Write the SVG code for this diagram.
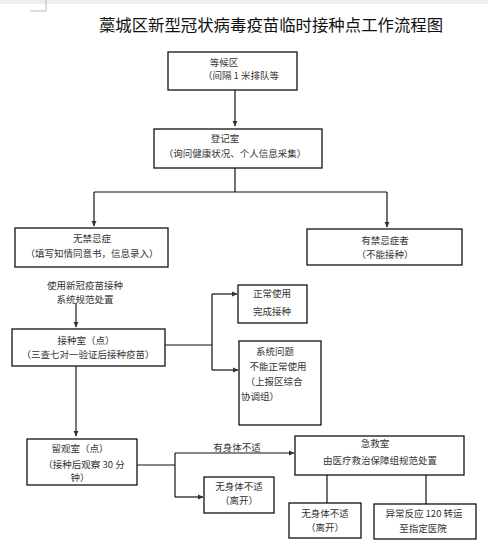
<svg xmlns="http://www.w3.org/2000/svg" width="488" height="560" viewBox="0 0 488 560">
<style>
.box{fill:#fff;stroke:#111;stroke-width:1.3}
.t{font-family:"Noto Sans CJK SC","Liberation Sans",sans-serif;font-size:9.5px;fill:#333;text-anchor:middle}
.tl{font-family:"Noto Sans CJK SC","Liberation Sans",sans-serif;font-size:9.5px;fill:#333;text-anchor:start}
.ln{fill:none;stroke:#111;stroke-width:1.2}
.gl{fill:none;stroke:#777;stroke-width:2}
</style>
<defs>
<marker id="ah" markerWidth="6" markerHeight="6" refX="5" refY="3" orient="auto" markerUnits="userSpaceOnUse"><path d="M0,0.5 L5.5,3 L0,5.5 Z" fill="#333"/></marker>
</defs>
<rect x="0" y="0" width="488" height="560" fill="#fff"/>
<rect x="0" y="0" width="488" height="4" fill="#eeeeee"/>
<path d="M30,11 H46 V0" fill="none" stroke="#bbb" stroke-width="1"/>
<text x="271" y="31" style="font-family:'Noto Sans CJK SC','Liberation Sans',sans-serif;font-size:16.4px;fill:#111;text-anchor:middle">藁城区新型冠状病毒疫苗临时接种点工作流程图</text>

<g id="connectors">
<path class="ln" d="M235,90 V126" marker-end="url(#ah)"/>
<path class="ln" d="M235,168 V192"/>
<path class="ln" d="M94,192 H387"/>
<path class="ln" d="M94,192 V226" marker-end="url(#ah)"/>
<path class="ln" d="M387,192 V227" marker-end="url(#ah)"/>
<path class="gl" d="M76,303 V327" marker-end="url(#ah)"/>
<path class="ln" d="M165,345 H212"/>
<path class="ln" d="M212,294 V370"/>
<path class="ln" d="M212,294 H237" marker-end="url(#ah)"/>
<path class="ln" d="M212,370 H238" marker-end="url(#ah)"/>
<path class="gl" d="M76,366 V436" marker-end="url(#ah)"/>
<path class="ln" d="M137,465 H175"/>
<path class="ln" d="M175,453 V497"/>
<path class="ln" d="M175,453 H294" marker-end="url(#ah)"/>
<path class="ln" d="M175,497 H203" marker-end="url(#ah)"/>
<path class="ln" d="M327,475 V503"/>
<path class="ln" d="M426,475 V504"/>
<text class="t" x="237" y="451">有身体不适</text>
</g>

<g id="n-waiting">
<rect class="box" x="168" y="52" width="129" height="38"/>
<text class="t" x="224" y="66">等候区</text>
<text class="t" x="241" y="79">（间隔 1 米排队等</text>
</g>
<g id="n-register">
<rect class="box" x="154" y="129" width="168" height="39"/>
<text class="t" x="225" y="142">登记室</text>
<text class="t" x="235" y="157">（询问健康状况、个人信息采集）</text>
</g>
<g id="n-nocontra">
<rect class="box" x="15" y="228" width="153" height="39"/>
<text class="t" x="92" y="242">无禁忌症</text>
<text class="t" x="92" y="257">（填写知情同意书，信息录入）</text>
</g>
<g id="n-contra">
<rect class="box" x="307" y="229" width="155" height="36"/>
<text class="t" x="385" y="244">有禁忌症者</text>
<text class="t" x="385" y="258">（不能接种）</text>
</g>
<g id="n-note">
<text class="t" x="85" y="289">使用新冠疫苗接种</text>
<text class="t" x="85" y="303">系统规范处置</text>
</g>
<g id="n-vacc">
<rect class="box" x="12" y="329" width="153" height="37"/>
<text class="t" x="86" y="344">接种室（点）</text>
<text class="t" x="88" y="358">（三查七对一验证后接种疫苗）</text>
</g>
<g id="n-normal">
<rect class="box" x="238" y="285" width="69" height="38"/>
<text class="t" x="272" y="297">正常使用</text>
<text class="t" x="272" y="315">完成接种</text>
</g>
<g id="n-sysissue">
<rect class="box" x="239" y="341" width="82" height="84"/>
<text class="t" x="275" y="355">系统问题</text>
<text class="t" x="278" y="370">不能正常使用</text>
<text class="t" x="274" y="385">（上报区综合</text>
<text class="tl" x="241" y="400">协调组）</text>
</g>
<g id="n-observe">
<rect class="box" x="27" y="439" width="110" height="46"/>
<text class="t" x="80" y="452">留观室（点）</text>
<text class="t" x="84" y="468">（接种后观察 30 分</text>
<text class="t" x="80" y="481">钟）</text>
</g>
<g id="n-leave1">
<rect class="box" x="204" y="477" width="70" height="36"/>
<text class="t" x="239" y="490">无身体不适</text>
<text class="t" x="239" y="504">（离开）</text>
</g>
<g id="n-emergency">
<rect class="box" x="295" y="436" width="169" height="39"/>
<text class="t" x="375" y="447">急救室</text>
<text class="t" x="380" y="464">由医疗救治保障组规范处置</text>
</g>
<g id="n-leave2">
<rect class="box" x="289" y="503" width="72" height="35"/>
<text class="t" x="325" y="517">无身体不适</text>
<text class="t" x="325" y="531">（离开）</text>
</g>
<g id="n-abnormal">
<rect class="box" x="374" y="504" width="102" height="35"/>
<text class="t" x="424" y="517">异常反应 120 转运</text>
<text class="t" x="423" y="532">至指定医院</text>
</g>
</svg>
